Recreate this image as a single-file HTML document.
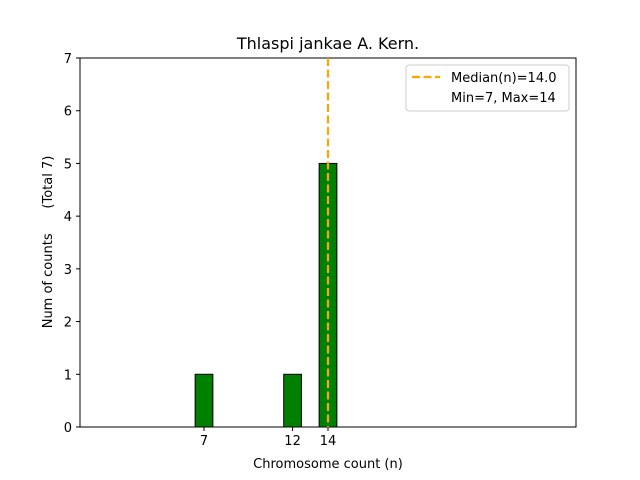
<!DOCTYPE html>
<html><head><meta charset="utf-8"><style>
body{margin:0;background:#fff;}
svg{display:block;font-family:"DejaVu Sans","Liberation Sans",sans-serif;}
</style></head><body>
<svg id="chart" width="640" height="480" viewBox="0 0 640 480">
<rect width="640" height="480" fill="#fff"/>
<text x="328" y="49" font-size="16" text-anchor="middle">Thlaspi jankae A. Kern.</text>
<g id="bars"></g>
<g id="axes"></g>
<line id="median" stroke="orange" stroke-width="2.2" stroke-dasharray="8,3.5"/>
<text x="328" y="468" font-size="13" text-anchor="middle">Chromosome count (n)</text>
<text transform="translate(52,242) rotate(-90)" font-size="13" text-anchor="middle" style="white-space:pre" xml:space="preserve">Num of counts      (Total 7)</text>
<g>
<rect x="406" y="65" width="163" height="46" fill="#fff" stroke="#ccc" rx="3"/>
<line x1="412" y1="77" x2="440" y2="77" stroke="orange" stroke-width="2.2" stroke-dasharray="8,3.5"/>
<text x="451" y="82" font-size="13">Median(n)=14.0</text>
<text x="451" y="102" font-size="13">Min=7, Max=14</text>
</g>
</svg>
<script>
const categories=[1,2,3,4,5,6,7,8,9,10,11,12,13,14,15,16,17];
const counts=[0,0,0,0,0,0,1,0,0,0,0,1,0,5,0,0,0];
const xTicks=[7,12,14];
const yTicks=[0,1,2,3,4,5,6,7];
const medianValue=14.0;
const L=80,R=576,T=58,B=427,xMin=0,xMax=28,yMax=7;
const X=v=>L+(v-xMin)/(xMax-xMin)*(R-L);
const Y=v=>B-v/yMax*(B-T);
const ns="http://www.w3.org/2000/svg";
const bars=document.getElementById('bars'),axes=document.getElementById('axes');
function mk(t,a,p){const e=document.createElementNS(ns,t);for(const k in a)e.setAttribute(k,a[k]);p.appendChild(e);return e;}
categories.forEach((c,i)=>{
 let r;
 if(counts[i]>0){
  r=mk('rect',{x:X(c-0.5),y:Y(counts[i]),width:X(c+0.5)-X(c-0.5),height:Y(0)-Y(counts[i]),fill:'green',stroke:'#000','stroke-width':1},bars);
 }else{
  r=mk('line',{x1:X(c-0.5),x2:X(c+0.5),y1:Y(0),y2:Y(0),stroke:'#000','stroke-width':1},bars);
 }
 
 
});
const fr=mk('rect',{x:L,y:T,width:R-L,height:B-T,fill:'none',stroke:'#000','stroke-width':1},axes);


xTicks.forEach(v=>{
 mk('line',{x1:X(v),x2:X(v),y1:B,y2:B+4,stroke:'#000'},axes);
 const t=mk('text',{x:X(v),y:B+18,'font-size':13,'text-anchor':'middle'},axes);t.textContent=v;
 
 
});
yTicks.forEach(v=>{
 mk('line',{x1:L-4,x2:L,y1:Y(v),y2:Y(v),stroke:'#000'},axes);
 const t=mk('text',{x:L-8,y:Y(v)+5,'font-size':13,'text-anchor':'end'},axes);t.textContent=v;
 
 
});
const m=document.getElementById('median');
m.setAttribute('x1',X(medianValue));m.setAttribute('x2',X(medianValue));
m.setAttribute('y1',T);m.setAttribute('y2',B);
</script>
</body></html>
